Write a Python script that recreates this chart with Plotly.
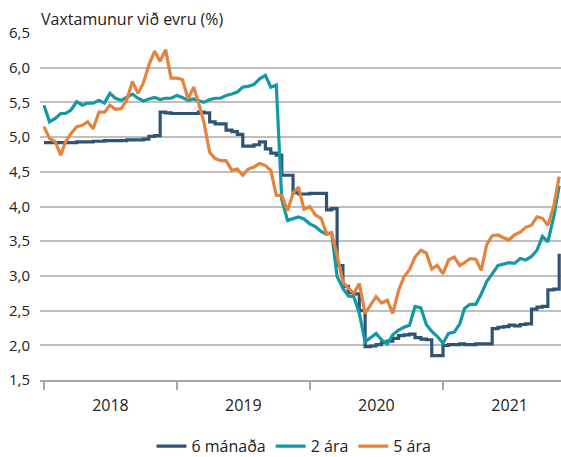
import plotly.graph_objects as go

# Semi-monthly observation dates (1st and 16th of each month)
dates = []
for yr in range(2018, 2022):
    for mo in range(1, 13):
        for dd in ("01", "16"):
            dates.append(f"{yr}-{mo:02d}-{dd}")
dates = dates[:94]

six_month = [
    4.92, 4.92, 4.92, 4.92, 4.92, 4.92, 4.93, 4.93, 4.93, 4.94, 4.94, 4.95,
    4.95, 4.95, 4.95, 4.96, 4.96, 4.96, 4.97, 5.01, 5.02, 5.36, 5.35, 5.34,
    5.34, 5.34, 5.34, 5.34, 5.36, 5.35, 5.22, 5.19, 5.19, 5.10, 5.08, 5.04,
    4.87, 4.87, 4.89, 4.93, 4.83, 4.77, 4.74, 4.45, 4.45, 4.20, 4.18, 4.18,
    4.19, 4.19, 4.19, 3.95, 3.97, 3.15, 2.85, 2.76, 2.74, 2.50, 1.98, 1.99,
    2.01, 2.04, 2.06, 2.10, 2.14, 2.15, 2.16, 2.11, 2.09, 2.08, 1.85, 1.85,
    2.00, 2.01, 2.01, 2.02, 2.01, 2.01, 2.02, 2.02, 2.02, 2.24, 2.26, 2.27,
    2.29, 2.28, 2.30, 2.31, 2.52, 2.55, 2.56, 2.80, 2.81, 3.32,
]

two_year = [
    5.46, 5.22, 5.27, 5.34, 5.34, 5.39, 5.51, 5.46, 5.49, 5.49, 5.53, 5.49,
    5.63, 5.56, 5.53, 5.58, 5.62, 5.56, 5.52, 5.55, 5.57, 5.54, 5.56, 5.56,
    5.60, 5.57, 5.53, 5.55, 5.53, 5.50, 5.54, 5.56, 5.56, 5.60, 5.62, 5.65,
    5.72, 5.73, 5.76, 5.84, 5.89, 5.72, 5.75, 4.10, 3.80, 3.83, 3.85, 3.82,
    3.75, 3.71, 3.64, 3.60, 3.62, 2.99, 2.82, 2.71, 2.70, 2.46, 2.05, 2.11,
    2.17, 2.08, 2.02, 2.15, 2.22, 2.26, 2.29, 2.56, 2.54, 2.30, 2.20, 2.13,
    2.03, 2.17, 2.19, 2.31, 2.53, 2.59, 2.59, 2.74, 2.92, 3.03, 3.15, 3.17,
    3.19, 3.18, 3.25, 3.23, 3.28, 3.37, 3.57, 3.49, 3.85, 4.30,
]

five_year = [
    5.15, 4.98, 4.93, 4.74, 4.93, 5.05, 5.15, 5.17, 5.22, 5.12, 5.36, 5.36,
    5.46, 5.40, 5.41, 5.53, 5.80, 5.63, 5.78, 6.04, 6.24, 6.09, 6.26, 5.85,
    5.85, 5.83, 5.55, 5.72, 5.50, 5.22, 4.78, 4.69, 4.66, 4.66, 4.52, 4.54,
    4.45, 4.54, 4.57, 4.62, 4.59, 4.52, 4.16, 4.16, 3.94, 4.19, 4.28, 3.96,
    4.00, 3.88, 3.83, 3.61, 3.62, 3.30, 2.91, 2.82, 2.75, 2.89, 2.46, 2.59,
    2.70, 2.61, 2.65, 2.46, 2.79, 2.99, 3.09, 3.27, 3.37, 3.33, 3.10, 3.15,
    3.03, 3.23, 3.27, 3.15, 3.19, 3.25, 3.24, 3.08, 3.45, 3.58, 3.59, 3.55,
    3.52, 3.59, 3.63, 3.70, 3.73, 3.85, 3.83, 3.73, 4.00, 4.43,
]

series_names = ["6 mánaða", "2 ára", "5 ára"]
series_colors = ["#2F5476", "#1398A5", "#E5823C"]
y_ticks = [1.5, 2.0, 2.5, 3.0, 3.5, 4.0, 4.5, 5.0, 5.5, 6.0, 6.5]
title_text = "Vaxtamunur við evru (%)"

FONT = "Open Sans, Noto Sans, sans-serif"
TXT = "#222222"

fig = go.Figure()
fig.add_trace(go.Scatter(x=dates, y=six_month, name=series_names[0], mode="lines",
                         line=dict(color=series_colors[0], width=3.2, shape="hv")))
fig.add_trace(go.Scatter(x=dates, y=two_year, name=series_names[1], mode="lines",
                         line=dict(color=series_colors[1], width=3.2)))
fig.add_trace(go.Scatter(x=dates, y=five_year, name=series_names[2], mode="lines",
                         line=dict(color=series_colors[2], width=3.2)))

fig.update_layout(
    width=561, height=457,
    margin=dict(l=40, r=0, t=33, b=77, autoexpand=False),
    plot_bgcolor="white", paper_bgcolor="white",
    separators=", ",
    font=dict(family=FONT, size=15, color=TXT),
    title=dict(text=title_text, x=41 / 561, xref="container", xanchor="left",
               y=1 - 19 / 457, yref="container", yanchor="middle",
               font=dict(family=FONT, size=16, color=TXT)),
    showlegend=True,
    legend=dict(orientation="h", x=0.4875, xanchor="center", y=-0.191, yanchor="middle",
                font=dict(family=FONT, size=16, color=TXT),
                bgcolor="rgba(0,0,0,0)"),
    xaxis=dict(
        type="date",
        range=["2017-12-21", "2021-11-21"],
        tick0="2018-01-01", dtick="M12", tickformat="%Y",
        ticklabelmode="period",
        ticks="outside", ticklen=8, tickwidth=1.5, tickcolor="#A6A6A6",
        ticklabelstandoff=2,
        showline=True, linecolor="#A6A6A6", linewidth=1.5,
        showgrid=False, zeroline=False,
        tickfont=dict(family=FONT, size=16, color=TXT),
    ),
    yaxis=dict(
        range=[1.5, 6.5],
        tickvals=y_ticks, tickformat=".1f",
        showgrid=True, gridcolor="#BFBFBF", gridwidth=1.5,
        zeroline=False, showline=False,
        ticks="outside", ticklen=6, tickcolor="rgba(0,0,0,0)",
        tickfont=dict(family=FONT, size=15, color=TXT),
    ),
)

fig.write_html(
    "out.html",
    config={"displayModeBar": False},
    post_script="document.body.style.margin='0';document.body.style.overflow='hidden';",
)
